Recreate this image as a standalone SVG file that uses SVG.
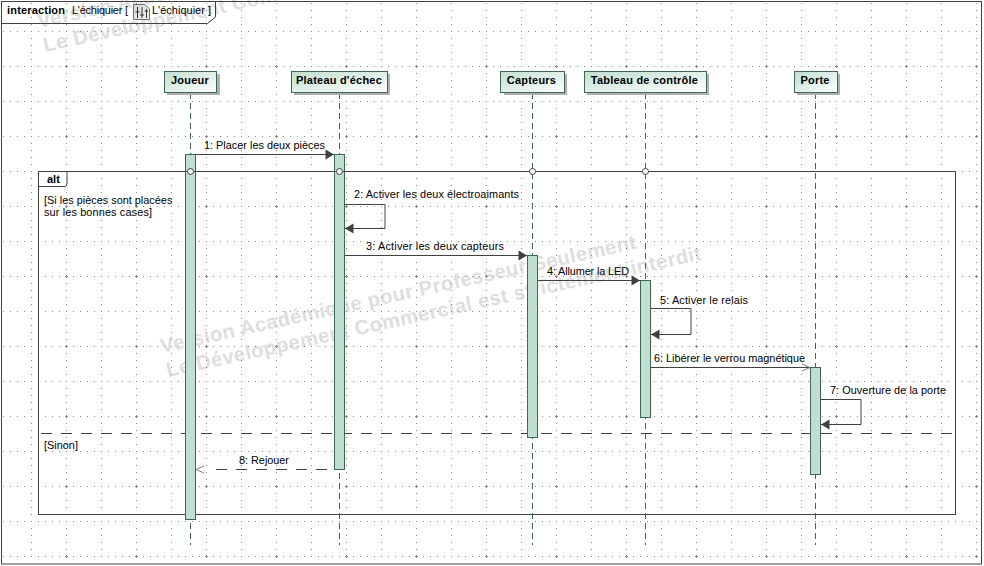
<svg xmlns="http://www.w3.org/2000/svg" width="984" height="566" viewBox="0 0 984 566">
<style>
.t{font:10.9px "Liberation Sans",Arial,sans-serif;fill:#000}
.b{font:bold 11px "Liberation Sans",Arial,sans-serif;fill:#000;letter-spacing:.22px;text-anchor:middle}
.f{font:bold 11px "Liberation Sans",Arial,sans-serif;fill:#000}
.wm{font:bold 20.200px "Liberation Sans",Arial,sans-serif;fill:#dedede;letter-spacing:.45px}
.h{fill:#b0b0b0}
.box{fill:url(#g);stroke:#3c6655;stroke-width:1}
.life{stroke:#3c6655;stroke-width:1;stroke-dasharray:6 4;fill:none}
.act{fill:#c0dfd0;stroke:#3c6655;stroke-width:1}
.ln{stroke:#404040;stroke-width:1;fill:none}
.dot{fill:#fff;stroke:#404040;stroke-width:1}
</style>
<defs>
<linearGradient id="g" x1="0" y1="0" x2="1" y2="1"><stop offset="0" stop-color="#c0dfd0"/><stop offset="1" stop-color="#fff"/></linearGradient>
<linearGradient id="ig" x1="0" y1="0" x2="1" y2="1"><stop offset="0" stop-color="#d8d8d8"/><stop offset="1" stop-color="#f4f4f4"/></linearGradient>
<marker id="fa" markerUnits="userSpaceOnUse" markerWidth="12" markerHeight="12" refX="10" refY="6" orient="auto"><path d="M1.500 1L10 6L1.500 11z" fill="#404040"/></marker>
<marker id="oa" markerUnits="userSpaceOnUse" markerWidth="10" markerHeight="10" refX="9" refY="5" orient="auto"><path d="M1 1.500L9 5L1 8.500" fill="none" stroke="#808080"/></marker>
<pattern id="cr" patternUnits="userSpaceOnUse" x="30" y="30" width="70" height="70"><path d="M35 36H38V37H35zM36 35H37V38H36z" fill="#888"/></pattern>
</defs>
<rect width="984" height="566" fill="#fff"/>
<g id="watermark">
<text class="wm" transform="translate(39 28) rotate(-12.4)">Version Académique pour Professeur Seulement</text>
<text class="wm" transform="translate(45 52) rotate(-12.4)">Le Développement Commercial est strictement interdit</text>
<text class="wm" transform="translate(162 353) rotate(-12.4)">Version Académique pour Professeur Seulement</text>
<text class="wm" transform="translate(168 377) rotate(-12.4)">Le Développement Commercial est strictement interdit</text>
</g>
<path id="grid" stroke="#888" stroke-width="1" stroke-dasharray="1 6" fill="none" d="M3 31.500H981M3 66.500H981M3 101.500H981M3 136.500H981M3 171.500H981M3 206.500H981M3 241.500H981M3 276.500H981M3 311.500H981M3 346.500H981M3 381.500H981M3 416.500H981M3 451.500H981M3 486.500H981M3 521.500H981M3 556.500H981M31.500 3V563M66.500 3V563M101.500 3V563M136.500 3V563M171.500 3V563M206.500 3V563M241.500 3V563M276.500 3V563M311.500 3V563M346.500 3V563M381.500 3V563M416.500 3V563M451.500 3V563M486.500 3V563M521.500 3V563M556.500 3V563M591.500 3V563M626.500 3V563M661.500 3V563M696.500 3V563M731.500 3V563M766.500 3V563M801.500 3V563M836.500 3V563M871.500 3V563M906.500 3V563M941.500 3V563M976.500 3V563"/>
<rect id="grid-crosses" x="3" y="3" width="978" height="560" fill="url(#cr)"/>
<rect id="frame" x="1.500" y="1.500" width="980" height="562.500" fill="none" stroke="#404040"/>
<g id="frame-label">
<rect x="2" y="2" width="213" height="21" fill="#fff" fill-opacity="0"/>
<path d="M1.500 23.500H207.500L215.500 17V1.500" fill="none" stroke="#404040"/>
<text x="7" y="14" class="f" textLength="58">interaction</text>
<text x="72" y="14" class="t" textLength="56">L'échiquier [</text>
<text x="152" y="14" class="t" textLength="59">L'échiquier ]</text>
<path d="M133.500 4.500H145L149.500 9V19.500H133.500z" fill="url(#ig)" stroke="#707070"/>
<path d="M137.500 7V18M142 7V18M146.500 9V18M135.500 12H139.500M140 15H144M144.500 11H148" stroke="#303030" fill="none"/>
</g>
<g id="alt">
<rect x="38.500" y="171.500" width="917" height="343" fill="none" stroke="#404040"/>
<path d="M38.500 186.500H65.500L67 184V171.500" fill="none" stroke="#404040"/>
<text x="47" y="183" class="f">alt</text>
<text x="44" y="204" class="t">[Si les pièces sont placées</text>
<text x="44" y="216" class="t" textLength="108">sur les bonnes cases]</text>
<path d="M41 433.500H953" stroke="#404040" stroke-dasharray="11 9" fill="none"/>
<text x="44" y="449" class="t">[Sinon]</text>
</g>
<g id="lifelines">
<path class="life" d="M190.500 93V545M339.500 93V545M532.500 93V545M645.500 93V545M815.500 93V545"/>
</g>
<g id="connectors">
<path class="ln" d="M195 154.500H334" marker-end="url(#fa)"/>
<path class="ln" d="M345 204.500H385V228.500H345" marker-end="url(#fa)"/>
<path class="ln" d="M345 255.500H527" marker-end="url(#fa)"/>
<path class="ln" d="M538 280.500H640" marker-end="url(#fa)"/>
<path class="ln" d="M651 308.500H691V334.500H651" marker-end="url(#fa)"/>
<path class="ln" d="M651 367.500H810" marker-end="url(#oa)"/>
<path class="ln" d="M821 399.500H861V424.500H821" marker-end="url(#fa)"/>
<path class="ln" d="M327 469.500H196" stroke-dasharray="11 9 11 9 11 9 11 9 11 9 11 100" marker-end="url(#oa)"/>
</g>
<g id="n1"><rect class="h" x="167" y="74" width="53" height="21"/><rect class="box" x="164.500" y="71.500" width="52" height="21"/><text class="b" x="190" y="84">Joueur</text>
<rect class="act" x="185.500" y="154.500" width="10" height="365"/></g>
<g id="n2"><rect class="h" x="294" y="74" width="96" height="21"/><rect class="box" x="291.500" y="71.500" width="96" height="21"/><text class="b" x="339" y="84">Plateau d'échec</text>
<rect class="act" x="334.500" y="154.500" width="10" height="315"/></g>
<g id="n3"><rect class="h" x="504" y="74" width="63" height="21"/><rect class="box" x="500.500" y="71.500" width="64" height="21"/><text class="b" x="531.500" y="84">Capteurs</text>
<rect class="act" x="527.500" y="255.500" width="10" height="182"/></g>
<g id="n4"><rect class="h" x="587" y="74" width="122" height="21"/><rect class="box" x="584.500" y="71.500" width="122" height="21"/><text class="b" x="644.500" y="84">Tableau de contrôle</text>
<rect class="act" x="640.500" y="280.500" width="10" height="137"/></g>
<g id="n5"><rect class="h" x="797" y="74" width="43" height="21"/><rect class="box" x="794.500" y="71.500" width="43" height="21"/><text class="b" x="815" y="84">Porte</text>
<rect class="act" x="810.500" y="367.500" width="10" height="107"/></g>
<g id="fragment-gates">
<path class="ln" d="M38.500 171.500H955"/>
<circle class="dot" cx="190.500" cy="171.500" r="3"/><circle class="dot" cx="339.500" cy="171.500" r="3"/><circle class="dot" cx="532.500" cy="171.500" r="3"/><circle class="dot" cx="645.500" cy="171.500" r="3"/>
</g>
<g id="labels">
<text x="204" y="149" class="t" textLength="121">1: Placer les deux pièces</text>
<text x="354" y="198" class="t" textLength="165">2: Activer les deux électroaimants</text>
<text x="366" y="250" class="t" textLength="138">3: Activer les deux capteurs</text>
<text x="547" y="275" class="t" textLength="82">4: Allumer la LED</text>
<text x="660" y="304" class="t" textLength="88">5: Activer le relais</text>
<text x="654" y="362" class="t" textLength="151">6: Libérer le verrou magnétique</text>
<text x="830" y="394" class="t" textLength="116">7: Ouverture de la porte</text>
<text x="239" y="464" class="t" textLength="50">8: Rejouer</text>
</g>
</svg>
